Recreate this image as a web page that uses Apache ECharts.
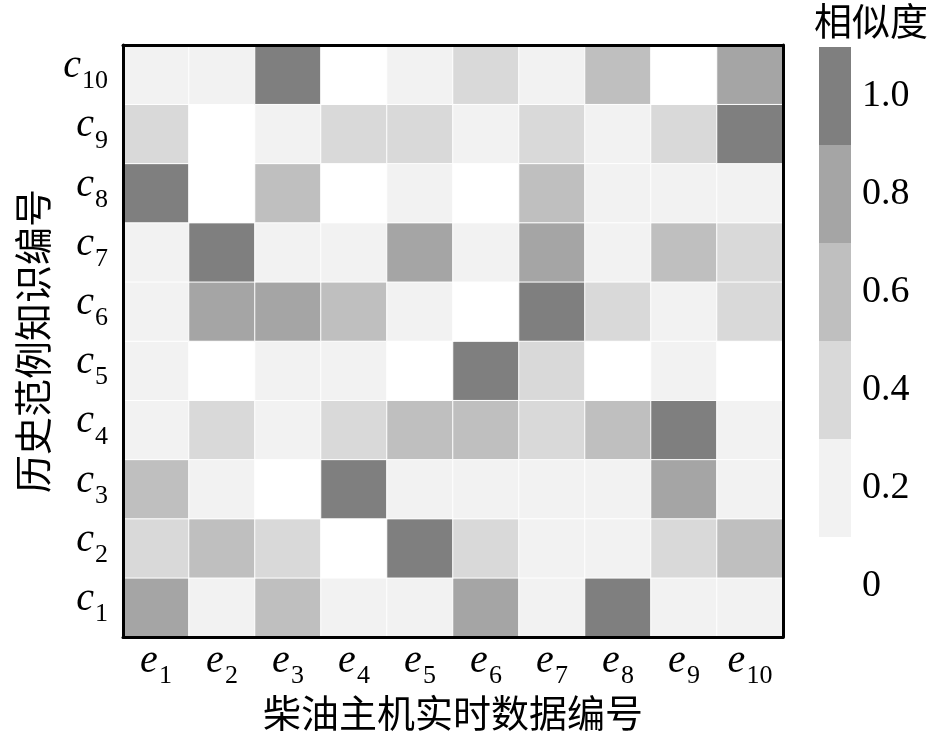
<!DOCTYPE html>
<html>
<head>
<meta charset="utf-8">
<script src="https://cdn.jsdelivr.net/npm/echarts@6/dist/echarts.min.js"></script>
<style>
  html, body { margin: 0; padding: 0; background: #fff; }
  #chart { width: 945px; height: 734px; }
</style>
</head>
<body>
<div id="chart"></div>
<script>
// 横轴：柴油主机实时数据 e1..e10，纵轴：历史范例知识 c1..c10
const xCats = ['e1', 'e2', 'e3', 'e4', 'e5', 'e6', 'e7', 'e8', 'e9', 'e10']
const yCats = ['c1', 'c2', 'c3', 'c4', 'c5', 'c6', 'c7', 'c8', 'c9', 'c10']

// 相似度矩阵，每行对应 c1..c10，每列对应 e1..e10
const simRows = [
  [0.8, 0.2, 0.6, 0.2, 0.2, 0.8, 0.2, 1.0, 0.2, 0.2], // c1
  [0.4, 0.6, 0.4, 0,   1.0, 0.4, 0.2, 0.2, 0.4, 0.6], // c2
  [0.6, 0.2, 0,   1.0, 0.2, 0.2, 0.2, 0.2, 0.8, 0.2], // c3
  [0.2, 0.4, 0.2, 0.4, 0.6, 0.6, 0.4, 0.6, 1.0, 0.2], // c4
  [0.2, 0,   0.2, 0.2, 0,   1.0, 0.4, 0,   0.2, 0  ], // c5
  [0.2, 0.8, 0.8, 0.6, 0.2, 0,   1.0, 0.4, 0.2, 0.4], // c6
  [0.2, 1.0, 0.2, 0.2, 0.8, 0.2, 0.8, 0.2, 0.6, 0.4], // c7
  [1.0, 0,   0.6, 0,   0.2, 0,   0.6, 0.2, 0.2, 0.2], // c8
  [0.4, 0,   0.2, 0.4, 0.4, 0.2, 0.4, 0.2, 0.4, 1.0], // c9
  [0.2, 0.2, 1.0, 0,   0.2, 0.4, 0.2, 0.6, 0,   0.8], // c10
]

// 色标分级
const levels      = [0, 0.2, 0.4, 0.6, 0.8, 1.0]
const levelLabels = ['0', '0.2', '0.4', '0.6', '0.8', '1.0']
const levelColors = ['#ffffff', '#f2f2f2', '#d9d9d9', '#bfbfbf', '#a5a5a5', '#7f7f7f']

const serif = '"Times New Roman", "Liberation Serif", serif'
const cjk   = '"Noto Sans CJK SC", sans-serif'

const data = []
simRows.forEach((row, yi) => {
  row.forEach((v, xi) => data.push([xi, yi, v]))
})

const subRich = {
  v: { fontFamily: serif, fontStyle: 'italic', fontSize: 40, color: '#000', verticalAlign: 'bottom', lineHeight: 40, padding: [0, 1, 8, 0] },
  s: { fontFamily: serif, fontSize: 26, color: '#000', verticalAlign: 'bottom', lineHeight: 26 },
}
const subFmt = (val) => `{v|${val[0]}}{s|${val.slice(1)}}`

const chart = echarts.init(document.getElementById('chart'))
chart.setOption({
  animation: false,
  backgroundColor: '#fff',
  title: {
    text: '相似度',
    left: 814,
    top: 0,
    padding: [2, 0, 0, 0],
    textStyle: { fontFamily: cjk, fontSize: 38, fontWeight: 'normal', color: '#000' },
  },
  grid: { left: 123, right: 162, top: 45, bottom: 97, outerBoundsMode: 'none' },
  xAxis: [
    {
      type: 'category',
      data: xCats,
      name: '柴油主机实时数据编号',
      nameLocation: 'middle',
      nameGap: 57,
      nameTextStyle: { fontFamily: cjk, fontSize: 38, color: '#000' },
      axisLine: { show: true, lineStyle: { color: '#000', width: 3 } },
      axisTick: { show: false },
      axisLabel: { interval: 0, margin: 12, formatter: subFmt, rich: subRich },
      splitLine: { show: false },
      z: 10,
    },
    {
      type: 'category',
      data: xCats,
      position: 'top',
      axisLine: { show: true, lineStyle: { color: '#000', width: 3 } },
      axisTick: { show: false },
      axisLabel: { show: false },
      z: 10,
    },
  ],
  yAxis: [
    {
      type: 'category',
      data: yCats,
      name: '历史范例知识编号',
      nameLocation: 'middle',
      nameGap: 71,
      nameTextStyle: { fontFamily: cjk, fontSize: 38, color: '#000' },
      axisLine: { show: true, lineStyle: { color: '#000', width: 3 } },
      axisTick: { show: false },
      axisLabel: { interval: 0, margin: 15, formatter: subFmt, rich: subRich },
      splitLine: { show: false },
      z: 10,
    },
    {
      type: 'category',
      data: yCats,
      position: 'right',
      axisLine: { show: true, lineStyle: { color: '#000', width: 3 } },
      axisTick: { show: false },
      axisLabel: { show: false },
      z: 10,
    },
  ],
  visualMap: {
    type: 'piecewise',
    dimension: 2,
    seriesIndex: 0,
    orient: 'vertical',
    align: 'left',
    left: 819,
    top: 47,
    padding: 0,
    itemWidth: 32,
    itemHeight: 98,
    itemGap: 0,
    itemSymbol: 'rect',
    textGap: 11,
    hoverLink: false,
    selectedMode: false,
    textStyle: { fontFamily: serif, fontSize: 38, color: '#000' },
    pieces: levels.map((v, i) => ({ value: v, label: levelLabels[i], color: levelColors[i] })),
  },
  series: [{
    type: 'heatmap',
    xAxisIndex: 0,
    yAxisIndex: 0,
    data,
    itemStyle: { borderColor: '#ffffff', borderWidth: 1 },
    emphasis: { disabled: true },
  }],
})
</script>
</body>
</html>
